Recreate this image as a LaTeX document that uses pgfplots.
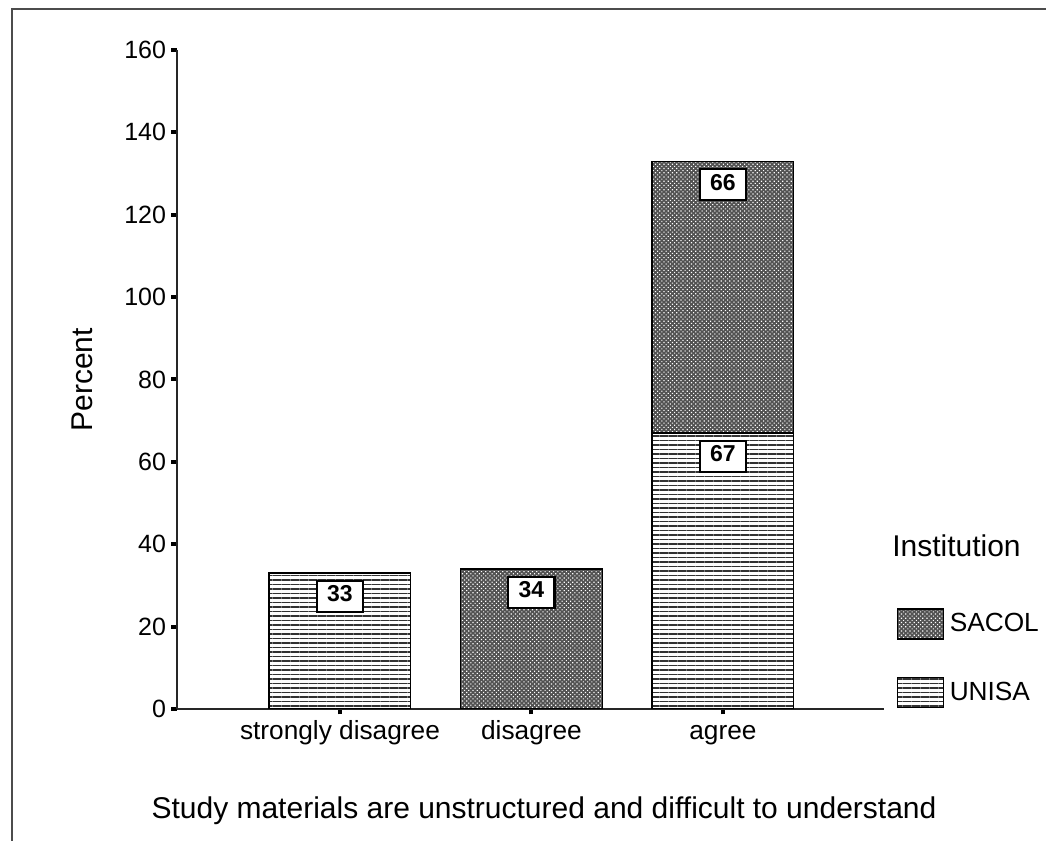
\documentclass[border=0pt]{standalone}
\usepackage{pgfplots}
\pgfplotsset{compat=1.18}
\usepackage{fontspec}
\setmainfont{Liberation Sans}
\usetikzlibrary{patterns.meta}

% boxed value label drawn inside the bars
\newcommand\vlabel[1]{{\setlength\fboxrule{0.9pt}\setlength\fboxsep{0pt}%
  \fcolorbox{black}{white}{\makebox[17.6pt]{\rule[-3.6pt]{0pt}{11.6pt}\fontsize{9.2}{10}\selectfont\bfseries #1}}}}

\pgfplotsset{
  unisa/.style={draw=black, line width=0.5pt, fill=white,
    postaction={pattern={Lines[angle=0,distance=1.8pt,line width=0.45pt]}, pattern color=black!80},
    legend image code/.code={\draw[##1] (0pt,-6pt) rectangle (18.4pt,6pt);}},
  sacol/.style={draw=black, line width=0.5pt, fill=black!68,
    postaction={pattern={Dots[angle=45,distance=1.2pt,radius=0.32pt]}, pattern color=white},
    legend image code/.code={\draw[##1] (0pt,-6pt) rectangle (18.4pt,6pt);}},
}

\begin{document}
\begin{tikzpicture}[x=1pt,y=1pt]
\path[use as bounding box] (0,0) rectangle (418.4,336.4);
\draw[line width=0.7pt, black!70] (4.8,0) -- (4.8,332.8) -- (418.4,332.8);
\begin{axis}[
  at={(70.8pt,52.8pt)}, anchor=south west,
  scale only axis, width=282.8pt, height=263.6pt,
  xmin=-0.851, xmax=2.841, ymin=0, ymax=160,
  ybar stacked, bar width=0.74,
  axis lines=left,
  axis line style={-, line width=0.8pt, black!85},
  xtick={0,1,2},
  xticklabels={strongly disagree,disagree,agree},
  ytick={0,20,...,160},
  tick align=outside,
  major tick length=2.2pt,
  every tick/.style={black, line width=1.6pt},
  x tick label style={font=\fontsize{10.5}{12}\selectfont, anchor=base, yshift=-10.2pt},
  y tick label style={font=\fontsize{10}{12}\selectfont, inner sep=0pt, xshift=-2pt},
  /pgf/number format/assume math mode=true,
  point meta=explicit symbolic,
  visualization depends on={rawy \as \rawy},
  nodes near coords={\ifx\pgfplotspointmeta\empty\else\vlabel{\pgfplotspointmeta}\fi},
  nodes near coords align={below},
  % labels hang just below the top edge of their own segment
  every node near coord/.append style={inner sep=0pt,
    shift={(axis direction cs:0,\rawy/2)}, yshift=-2.4pt},
  reverse legend,
  legend style={at={(1.017,0.1533)}, anchor=north west, draw=none, fill=none,
    inner sep=0pt, row sep=15pt, column sep=2.4pt,
    font=\fontsize{10.5}{12}\selectfont, nodes={inner sep=0pt}},
  legend cell align=left,
]
% UNISA
\addplot[unisa] coordinates {(0,33) [33] (1,0) [] (2,67) [67]};
\addlegendentry{UNISA}
% SACOL
\addplot[sacol] coordinates {(0,0) [] (1,34) [34] (2,66) [66]};
\addlegendentry{SACOL}
\end{axis}
\node[rotate=90, font=\fontsize{12}{14}\selectfont, inner sep=0pt] at (33,184.4) {Percent};
\node[anchor=base, font=\fontsize{12}{14}\selectfont, inner sep=0pt] at (217.6,8.8)
  {Study materials are unstructured and difficult to understand};
\node[anchor=west, font=\fontsize{12}{14}\selectfont, inner sep=0pt] at (356.7,118) {Institution};
\end{tikzpicture}
\end{document}
